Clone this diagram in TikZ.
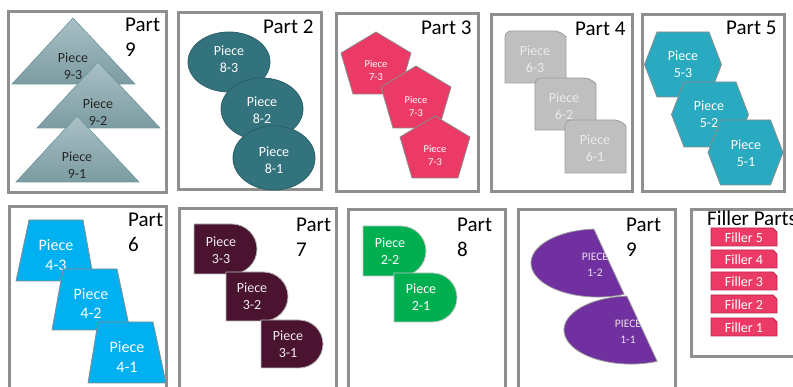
\documentclass[tikz,border=0pt]{standalone}
\usepackage{fontspec}
\setmainfont{Carlito}
\definecolor{framegray}{HTML}{8F8F8F}
\definecolor{tritop}{HTML}{A9C0C5}
\definecolor{tribot}{HTML}{7B9CA2}
\definecolor{triedge}{HTML}{6F959C}
\definecolor{tealc}{HTML}{33737E}
\definecolor{tealedge}{HTML}{2A6069}
\definecolor{pinkc}{HTML}{EA3A65}
\definecolor{greyc}{HTML}{BFBFBF}
\definecolor{greyedge}{HTML}{9D9D9D}
\definecolor{hexc}{HTML}{2AAAC0}
\definecolor{bluec}{HTML}{00B0F0}
\definecolor{maroonc}{HTML}{4A1430}
\definecolor{greenc}{HTML}{00B050}
\definecolor{purplec}{HTML}{7030A0}
\definecolor{filleredge}{HTML}{C0284C}
\definecolor{shapeedge}{HTML}{8C8C8C}
\tikzset{
  frame/.style={draw=framegray,line width=3pt},
  tri/.style={draw=triedge,line width=0.6pt,top color=tritop,bottom color=tribot},
  ell/.style={draw=tealedge,line width=0.8pt,fill=tealc},
  pent/.style={draw=shapeedge,line width=0.8pt,fill=pinkc},
  snip/.style={draw=greyedge,line width=0.8pt,fill=greyc},
  hexa/.style={draw=shapeedge,line width=0.8pt,fill=hexc},
  trap/.style={draw=shapeedge,line width=0.8pt,fill=bluec},
  dmaroon/.style={draw=greyedge!70,line width=0.8pt,fill=maroonc},
  dgreen/.style={draw=greyedge!60,line width=0.8pt,fill=greenc},
  chord/.style={draw=greyedge,line width=0.8pt,fill=purplec},
  fill5/.style={draw=filleredge,line width=0.8pt,fill=pinkc},
  lbl/.style={align=center,inner sep=0pt,font=\fontsize{14}{17}\selectfont},
  partlbl/.style={align=left,inner sep=0pt,anchor=base west,font=\fontsize{21}{25}\selectfont},
}
\begin{document}
\begin{tikzpicture}[x=1pt,y=-1pt]
\clip (0,0) rectangle (793,387);
% frames
\draw[frame] (8.8,11.5) rectangle (166.2,192.8);
\draw[frame] (178.2,13) rectangle (321.2,189.2);
\draw[frame] (336.5,13.5) rectangle (478.5,191.2);
\draw[frame] (491.5,14.5) rectangle (632.5,191.2);
\draw[frame] (642.5,14.5) rectangle (784.5,191.2);
\draw[frame] (9.5,206.5) rectangle (166.5,400);
\draw[frame] (179.5,208.5) rectangle (336.5,400);
\draw[frame] (348.5,209.5) rectangle (505.5,400);
\draw[frame] (518,209.5) rectangle (675.5,400);
\draw[frame] (691.5,209.5) rectangle (820,356.5);

% Part 9 (triangles)
\node[partlbl] (t1) at (125,57) {Part\\9};
\path[tri] (73,18) -- (135,84) -- (12,84) -- cycle;
\node[lbl,text=black!85] (p93) at (73,66.5) {Piece\\9-3};
\path[tri] (98,62) -- (160,128) -- (37,128) -- cycle;
\node[lbl,text=black!85] (p92) at (98,112) {Piece\\9-2};
\path[tri] (77,116) -- (139,182) -- (16,182) -- cycle;
\node[lbl,text=black!85] (p91) at (77,165) {Piece\\9-1};

% Part 2 (ellipses)
\node[partlbl] (t2) at (263,34) {Part 2};
\path[ell] (229,62) ellipse [x radius=41,y radius=30];
\node[lbl,text=white] (p83) at (229,59.5) {Piece\\8-3};
\path[ell] (262,109) ellipse [x radius=41,y radius=31];
\node[lbl,text=white] (p82) at (262,110) {Piece\\8-2};
\path[ell] (274,158) ellipse [x radius=41,y radius=32];
\node[lbl,text=white] (p81) at (274,160) {Piece\\8-1};

% Part 3 (pentagons)
\node[partlbl] (t3) at (421,35) {Part 3};
\path[pent] (376,32) -- (411,53) -- (399,94) -- (353,94) -- (341,53) -- cycle;
\node[lbl,text=white,font=\fontsize{10.5}{13}\selectfont] (p73a) at (376,70) {Piece\\7-3};
\path[pent] (416,66) -- (451,87) -- (439,128) -- (393,128) -- (381,87) -- cycle;
\node[lbl,text=white,font=\fontsize{10.5}{13}\selectfont] (p73b) at (416,106) {Piece\\7-3};
\path[pent] (435,116) -- (470,137) -- (458,178) -- (412,178) -- (400,137) -- cycle;
\node[lbl,text=white,font=\fontsize{10.5}{13}\selectfont] (p73c) at (435,155) {Piece\\7-3};

% Part 4 (snipped rectangles)
\node[partlbl] (t4) at (575,36) {Part 4};
\path[snip] (505,83) {[rounded corners=6pt] -- (505,31) -- (560,31)} -- (566,37) -- (566,83) -- cycle;
\node[lbl,text=white!92!black] (p63) at (535,59.5) {Piece\\6-3};
\path[snip] (535,130) {[rounded corners=6pt] -- (535,78) -- (590,78)} -- (596,84) -- (596,130) -- cycle;
\node[lbl,text=white!92!black] (p62) at (564,106) {Piece\\6-2};
\path[snip] (565,173) {[rounded corners=6pt] -- (565,120) -- (620,120)} -- (626,126) -- (626,173) -- cycle;
\node[lbl,text=white!92!black] (p61) at (595,148) {Piece\\6-1};

% Part 5 (hexagons)
\node[partlbl] (t5) at (726,35) {Part 5};
\path[hexa] (644.5,64.5) -- (657,32) -- (709,32) -- (721.5,64.5) -- (709,97) -- (657,97) -- cycle;
\node[lbl,text=white] (p53) at (683,64) {Piece\\5-3};
\path[hexa] (671.5,114.5) -- (684,82) -- (736,82) -- (748.5,114.5) -- (736,147) -- (684,147) -- cycle;
\node[lbl,text=white] (p52) at (709,114) {Piece\\5-2};
\path[hexa] (708,152.5) -- (720.5,120) -- (770.5,120) -- (783,152.5) -- (770.5,185) -- (720.5,185) -- cycle;
\node[lbl,text=white] (p51) at (746,153) {Piece\\5-1};

% Part 6 (trapezoids)
\node[partlbl] (t6) at (128,252) {Part\\6};
\path[trap] (29,220) -- (83,220) -- (94,281) -- (16,281) -- cycle;
\node[lbl,text=white,font=\fontsize{16}{19.5}\selectfont] (p43) at (56,255) {Piece\\4-3};
\path[trap] (63,269) -- (117,269) -- (130,330) -- (52,330) -- cycle;
\node[lbl,text=white,font=\fontsize{16}{19.5}\selectfont] (p42) at (91,303.5) {Piece\\4-2};
\path[trap] (98,322) -- (153,322) -- (166,383) -- (88,383) -- cycle;
\node[lbl,text=white,font=\fontsize{16}{19.5}\selectfont] (p41) at (127,357) {Piece\\4-1};

% Part 7 (maroon D shapes)
\node[partlbl] (t7) at (296,257) {Part\\7};
\path[dmaroon] (194,224) -- (232,224) arc[start angle=-90,end angle=90,radius=25] -- (194,274) -- cycle;
\node[lbl,text=white!92!maroonc] (p33) at (221,250) {Piece\\3-3};
\path[dmaroon] (226,272) -- (263.5,272) arc[start angle=-90,end angle=90,radius=24.5] -- (226,321) -- cycle;
\node[lbl,text=white!92!maroonc] (p32) at (252,296.5) {Piece\\3-2};
\path[dmaroon] (261,320) -- (299,320) arc[start angle=-90,end angle=90,radius=24] -- (261,368) -- cycle;
\node[lbl,text=white!92!maroonc] (p31) at (288,344.5) {Piece\\3-1};

% Part 8 (green D shapes)
\node[partlbl] (t8) at (457,257) {Part\\8};
\path[dgreen] (363,226) -- (401,226) arc[start angle=-90,end angle=90,radius=25] -- (363,276) -- cycle;
\node[lbl,text=white] (p22) at (390,251) {Piece\\2-2};
\path[dgreen] (394,273) -- (432.5,273) arc[start angle=-90,end angle=90,radius=24.5] -- (394,322) -- cycle;
\node[lbl,text=white] (p21) at (421,297.5) {Piece\\2-1};

% Part 9 (purple chord shapes)
\node[partlbl] (t9) at (626,257) {Part\\9};
\path[chord] (593.9,229.1) arc[start angle=266.5,end angle=67,x radius=67,y radius=34] -- cycle;
\begin{scope}
\clip (593.9,229.1) arc[start angle=266.5,end angle=67,x radius=67,y radius=34] -- cycle;
\node[lbl,text=white!85!purplec,font=\fontsize{11.5}{16}\selectfont] (p12) at (595,264.5) {PIECE\\1-2};
\end{scope}
\path[chord] (626.9,296.1) arc[start angle=266.5,end angle=67,x radius=67,y radius=34] -- cycle;
\begin{scope}
\clip (626.9,296.1) arc[start angle=266.5,end angle=67,x radius=67,y radius=34] -- cycle;
\node[lbl,text=white!85!purplec,font=\fontsize{11.5}{16}\selectfont] (p11) at (628,331.5) {PIECE\\1-1};
\end{scope}

% Filler parts
\node[inner sep=0pt,anchor=base west,font=\fontsize{21}{25}\selectfont] (tf) at (707,226) {Filler Parts};
\foreach \y/\n in {228/5,250/4,272/3,295/2,318/1}{
  \path[fill5] (711,\y) -- (773,\y) -- (777,\y+4) -- (777,\y+18) -- (711,\y+18) -- cycle;
  \node[inner sep=0pt,text=white,font=\fontsize{14}{17}\selectfont] (f\n) at (744,\y+9.5) {Filler \n};
}
\end{tikzpicture}
\end{document}
